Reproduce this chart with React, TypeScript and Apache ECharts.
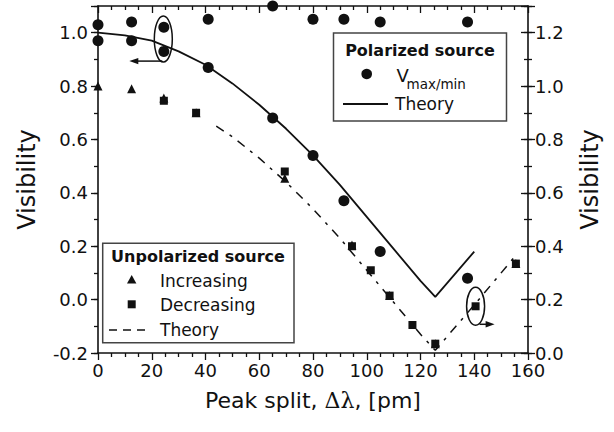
import React, { useEffect, useRef } from "react";
import * as echarts from "echarts";

// ---- data ----
// Polarized source, V max/min (left axis)
const polX = [0, 12.5, 24.5, 41, 65, 80, 91.5, 105, 137.5];
const polUpper = [1.03, 1.04, 1.02, 1.05, 1.1, 1.05, 1.05, 1.04, 1.04];
const polLower = [0.97, 0.97, 0.93, 0.87, 0.68, 0.54, 0.37, 0.18, 0.08];
// Polarized theory (left axis)
const polTheoryX = [0, 10, 20, 30, 40, 50, 60, 70, 80, 90, 100, 110, 120, 125.5, 140];
const polTheoryY = [1.0, 0.99, 0.97, 0.93, 0.88, 0.81, 0.73, 0.64, 0.54, 0.43, 0.31, 0.19, 0.07, 0.01, 0.18];
// Unpolarized source (right axis)
const incX = [0, 12.5, 24.5, 36.5, 69.5, 94.5, 108.5, 125.5, 155.5];
const incY = [1.0, 0.99, 0.955, 0.9, 0.655, 0.405, 0.215, 0.035, 0.335];
const decX = [24.5, 36.5, 69.5, 94.5, 101.5, 108.5, 117, 125.5, 140.5, 155.5];
const decY = [0.945, 0.9, 0.68, 0.4, 0.31, 0.215, 0.105, 0.035, 0.175, 0.335];
// Unpolarized theory (right axis)
const unpTheoryX = [44, 50, 60, 70, 80, 90, 100, 110, 120, 125.5, 140, 155];
const unpTheoryY = [0.85, 0.81, 0.73, 0.64, 0.54, 0.43, 0.31, 0.19, 0.07, 0.01, 0.18, 0.36];

// axes
const xMin = 0, xMax = 160, xStep = 20;
const leftMin = -0.2, leftMax = 1.1;
const rightMin = 0, rightMax = 1.3;

// annotation anchors (data coords)
const leftMarkAnchor = [24.3, 0.976]; // ellipse around circles, arrow to left axis
const rightMarkAnchor = [140.5, 0.175]; // ellipse around square, arrow to right axis

const INK = "#111";
const FONT = "DejaVu Sans";

const zip = (xs: number[], ys: number[]) => xs.map((x, i) => [x, ys[i]]);

const evenLabel = (v: number) => {
  const k = Math.round(v * 10);
  return k % 2 === 0 ? v.toFixed(1) : "";
};

function yAxisBase(position: "left" | "right", min: number, max: number) {
  return {
    type: "value",
    position,
    min,
    max,
    offset: 0,
    splitLine: { show: false },
    axisLine: { show: false, onZero: false },
    axisLabel: { show: false },
  };
}

export default function App() {
  const ref = useRef<HTMLDivElement>(null);
  useEffect(() => {
    const chart = echarts.init(ref.current!, null, { renderer: "svg" });
    const tickStyle = { color: INK, width: 1.3 };
    const labelStyle = { fontSize: 18, fontFamily: FONT, color: INK };
    const markStyle = { color: INK, opacity: 1 };
    const option: any = {
      animation: false,
      backgroundColor: "#fff",
      grid: { left: 98, top: 6, width: 430, height: 347, containLabel: false },
      xAxis: [
        {
          type: "value",
          position: "bottom",
          min: xMin,
          max: xMax,
          interval: xStep,
          splitLine: { show: false },
          axisLine: { show: true, onZero: false, lineStyle: { color: INK, width: 1.6 } },
          axisTick: { show: true, length: 7, lineStyle: tickStyle },
          minorTick: { show: true, splitNumber: 4, length: 4, lineStyle: tickStyle },
          axisLabel: { ...labelStyle, margin: 8 },
          name: "Peak split, {g|Δλ}, [pm]",
          nameLocation: "middle",
          nameGap: 36,
          nameTextStyle: {
            fontSize: 22,
            fontFamily: FONT,
            color: INK,
            rich: { g: { fontSize: 22, fontFamily: "DejaVu Serif", color: INK } },
          },
        },
        {
          type: "value",
          position: "top",
          min: xMin,
          max: xMax,
          interval: xStep,
          splitLine: { show: false },
          axisLine: { show: true, onZero: false, lineStyle: { color: INK, width: 1.6 } },
          axisTick: { show: true, inside: true, length: 7, lineStyle: tickStyle },
          minorTick: { show: true, splitNumber: 4, length: 4, lineStyle: tickStyle },
          axisLabel: { show: false },
        },
      ],
      yAxis: [
        {
          // 0: left main (minor-length ticks every 0.1)
          ...yAxisBase("left", leftMin, leftMax),
          interval: 0.1,
          axisLine: { show: true, onZero: false, lineStyle: { color: INK, width: 1.6 } },
          axisTick: { show: true, length: 4, lineStyle: tickStyle },
          axisLabel: { ...labelStyle, margin: 10, formatter: evenLabel },
          name: "Visibility",
          nameLocation: "middle",
          nameRotate: 90,
          nameGap: 59,
          nameTextStyle: { fontSize: 24, fontFamily: FONT, color: INK },
        },
        {
          // 1: left major ticks
          ...yAxisBase("left", leftMin, leftMax),
          interval: 0.2,
          axisTick: { show: true, length: 7, lineStyle: tickStyle },
        },
        {
          // 2: right main
          ...yAxisBase("right", rightMin, rightMax),
          interval: 0.1,
          axisLine: { show: true, onZero: false, lineStyle: { color: INK, width: 1.6 } },
          axisTick: { show: true, length: 4, lineStyle: tickStyle },
          axisLabel: { ...labelStyle, margin: 7, formatter: evenLabel },
          name: "Visibility",
          nameLocation: "middle",
          nameRotate: 90,
          nameGap: 50,
          nameTextStyle: { fontSize: 24, fontFamily: FONT, color: INK },
        },
        {
          // 3: right major ticks
          ...yAxisBase("right", rightMin, rightMax),
          interval: 0.2,
          axisTick: { show: true, length: 7, lineStyle: tickStyle },
        },
        {
          // 4: mirrored left ticks on right side (inside)
          ...yAxisBase("right", leftMin, leftMax),
          interval: 0.1,
          axisTick: { show: true, inside: true, length: 4, lineStyle: tickStyle },
        },
        {
          // 5: mirrored left major ticks on right side (inside)
          ...yAxisBase("right", leftMin, leftMax),
          interval: 0.2,
          axisTick: { show: true, inside: true, length: 7, lineStyle: tickStyle },
        },
      ],
      series: [
        {
          type: "line",
          name: "Polarized theory",
          xAxisIndex: 0,
          yAxisIndex: 0,
          data: zip(polTheoryX, polTheoryY),
          showSymbol: false,
          clip: false,
          lineStyle: { color: INK, width: 1.8 },
          z: 2,
        },
        {
          type: "line",
          name: "Unpolarized theory",
          xAxisIndex: 0,
          yAxisIndex: 2,
          data: zip(unpTheoryX, unpTheoryY),
          showSymbol: false,
          clip: false,
          lineStyle: { color: INK, width: 1.5, type: [9, 7, 3, 7] },
          z: 2,
        },
        {
          type: "scatter",
          name: "Vmax/min upper",
          xAxisIndex: 0,
          yAxisIndex: 0,
          data: zip(polX, polUpper),
          symbol: "circle",
          symbolSize: 11,
          clip: false,
          itemStyle: markStyle,
          z: 3,
        },
        {
          type: "scatter",
          name: "Vmax/min lower",
          xAxisIndex: 0,
          yAxisIndex: 0,
          data: zip(polX, polLower),
          symbol: "circle",
          symbolSize: 11,
          clip: false,
          itemStyle: markStyle,
          z: 3,
        },
        {
          type: "scatter",
          name: "Increasing",
          xAxisIndex: 0,
          yAxisIndex: 2,
          data: zip(incX, incY),
          symbol: "triangle",
          symbolSize: 9,
          clip: false,
          itemStyle: markStyle,
          z: 3,
        },
        {
          type: "scatter",
          name: "Decreasing",
          xAxisIndex: 0,
          yAxisIndex: 2,
          data: zip(decX, decY),
          symbol: "rect",
          symbolSize: 8,
          clip: false,
          itemStyle: markStyle,
          z: 3,
        },
      ],
    };
    chart.setOption(option);

    const p1 = chart.convertToPixel({ xAxisIndex: 0, yAxisIndex: 0 }, leftMarkAnchor) as number[];
    const p2 = chart.convertToPixel({ xAxisIndex: 0, yAxisIndex: 2 }, rightMarkAnchor) as number[];

    const txt = (text: string, x: number, y: number, size: number, extra: any = {}) => ({
      type: "text",
      z: 20,
      style: {
        text,
        x,
        y,
        fontSize: size,
        fontFamily: FONT,
        fill: INK,
        align: "left",
        verticalAlign: "middle",
        textAlign: "left",
        textVerticalAlign: "middle",
        ...extra,
      },
    });

    const arrow = (x1: number, y1: number, x2: number, y2: number) => {
      const dir = Math.sign(x2 - x1);
      return [
        { type: "line", z: 20, shape: { x1, y1, x2: x2 - dir * 6, y2 }, style: { stroke: INK, lineWidth: 1.5 } },
        {
          type: "polygon",
          z: 20,
          shape: { points: [[x2, y2], [x2 - dir * 9, y2 - 3.2], [x2 - dir * 9, y2 + 3.2]] },
          style: { fill: INK },
        },
      ];
    };

    const graphic: any[] = [
      // annotation 1: circles -> left axis
      {
        type: "ellipse",
        z: 20,
        shape: { cx: p1[0], cy: p1[1], rx: 9, ry: 23 },
        style: { fill: "none", stroke: INK, lineWidth: 1.5 },
      },
      ...arrow(p1[0] - 1, p1[1] + 22, p1[0] - 34, p1[1] + 22),
      // annotation 2: square -> right axis
      {
        type: "ellipse",
        z: 20,
        shape: { cx: p2[0], cy: p2[1], rx: 9, ry: 19 },
        style: { fill: "none", stroke: INK, lineWidth: 1.5 },
      },
      ...arrow(p2[0] + 4, p2[1] + 18, p2[0] + 19, p2[1] + 18),

      // legend: polarized
      {
        type: "rect",
        z: 15,
        shape: { x: 333.5, y: 33, width: 173, height: 88 },
        style: { fill: "#fff", stroke: "#444", lineWidth: 1.5 },
      },
      txt("Polarized source", 420, 50, 16, { fontWeight: "bold", align: "center", textAlign: "center" }),
      { type: "circle", z: 20, shape: { cx: 366.7, cy: 74, r: 5.3 }, style: { fill: INK } },
      txt("V", 396.5, 75, 18),
      txt("max/min", 406.5, 84, 13.5),
      { type: "line", z: 20, shape: { x1: 343, y1: 104, x2: 388, y2: 104 }, style: { stroke: INK, lineWidth: 1.8 } },
      txt("Theory", 395, 104, 17),

      // legend: unpolarized
      {
        type: "rect",
        z: 15,
        shape: { x: 102.7, y: 243.3, width: 191.3, height: 99.4 },
        style: { fill: "#fff", stroke: "#444", lineWidth: 1.5 },
      },
      txt("Unpolarized source", 198, 256.5, 16, { fontWeight: "bold", align: "center", textAlign: "center" }),
      {
        type: "polygon",
        z: 20,
        shape: { points: [[131.7, 275], [127, 283.5], [136.4, 283.5]] },
        style: { fill: INK },
      },
      txt("Increasing", 160, 281, 17),
      { type: "rect", z: 20, shape: { x: 127.7, y: 300.3, width: 8, height: 8 }, style: { fill: INK } },
      txt("Decreasing", 160, 305, 17),
      {
        type: "line",
        z: 20,
        shape: { x1: 109, y1: 330, x2: 147, y2: 330 },
        style: { stroke: INK, lineWidth: 1.5, lineDash: [8, 6] },
      },
      txt("Theory", 160, 330, 17),
    ];
    chart.setOption({ graphic });

    return () => chart.dispose();
  }, []);
  return <div ref={ref} style={{ position: "absolute", left: 0, top: 0, width: 614, height: 432 }} />;
}
